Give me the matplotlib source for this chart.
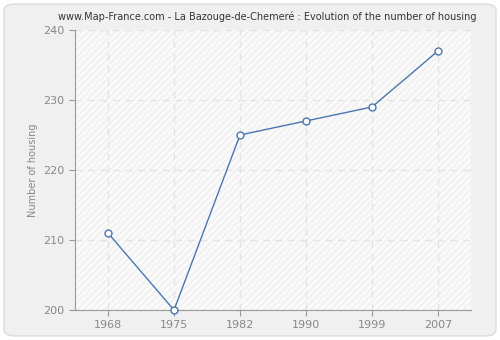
import matplotlib
matplotlib.use("Agg")
from matplotlib import pyplot as plt
from matplotlib.patches import FancyBboxPatch

years = ["1968", "1975", "1982", "1990", "1999", "2007"]
housing = [211, 200, 225, 227, 229, 237]
y_ticks = [200, 210, 220, 230, 240]

fig = plt.figure(figsize=(5, 3.4), dpi=100)
fig.patch.set_facecolor("white")

# rounded outer frame
frame = FancyBboxPatch((0.008, 0.012), 0.984, 0.976, boxstyle="round,pad=0,rounding_size=0.02",
                       transform=fig.transFigure, facecolor="#f0f0f0", edgecolor="#dcdcdc",
                       linewidth=1, zorder=-10)
fig.patches.append(frame)

ax = fig.add_axes([0.15, 0.088, 0.792, 0.824])
ax.set_facecolor("#fafafa")
ax.add_patch(plt.Rectangle((0, 0), 1, 1, transform=ax.transAxes, facecolor="none",
                           edgecolor="#efefef", hatch="/////", linewidth=0, zorder=0))

x = list(range(len(years)))
ax.plot(x, housing, color="#4a77b0", linewidth=1, zorder=3)
ax.plot(x, housing, linestyle="none", marker="o", markersize=5, markerfacecolor="white",
        markeredgecolor="#4a77b0", markeredgewidth=1, zorder=4, clip_on=False)

ax.set_xlim(-0.5, len(years) - 0.5)
ax.set_ylim(200, 240)
ax.set_xticks(x)
ax.set_xticklabels(years)
ax.set_yticks(y_ticks)

ax.grid(True, color="#e4e4e4", linestyle=(0, (5, 4)), linewidth=1)
ax.set_axisbelow(True)

for side in ["top", "right"]:
    ax.spines[side].set_visible(False)
for side in ["left", "bottom"]:
    ax.spines[side].set_color("#999999")

ax.tick_params(colors="#999999", labelcolor="#888888", labelsize=8, length=4)
ax.set_ylabel("Number of housing", color="#888888", fontsize=7)

fig.text(0.535, 0.95, "www.Map-France.com - La Bazouge-de-Chemeré : Evolution of the number of housing",
         ha="center", va="center", fontsize=7, color="#333333")

fig.savefig("out.png", dpi=100)
